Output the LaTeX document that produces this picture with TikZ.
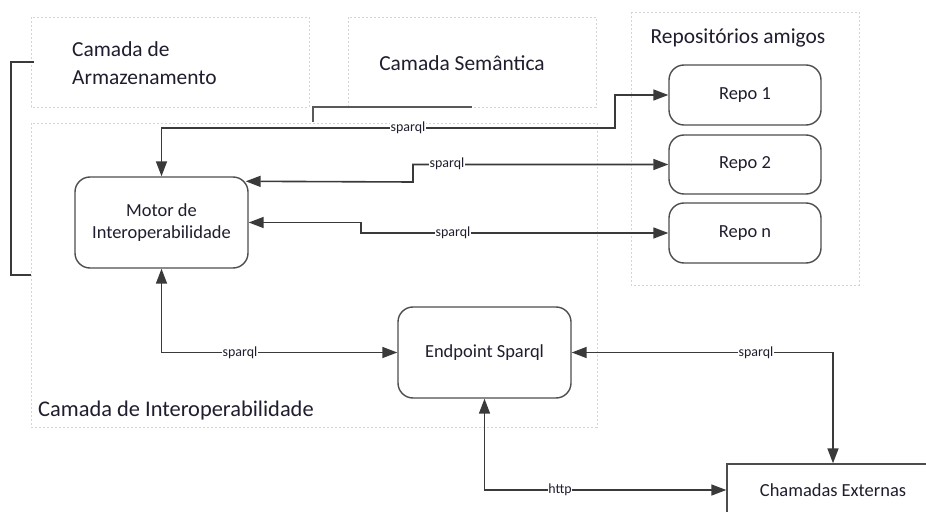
\documentclass[tikz,border=0pt]{standalone}
\usepackage{fontspec}
\setmainfont{Carlito}
\usetikzlibrary{arrows.meta}
\definecolor{txt}{HTML}{1E1E2E}
\definecolor{wire}{HTML}{3A3A3A}
\definecolor{edge}{HTML}{4D4D4D}
\definecolor{zone}{HTML}{D4D4D4}
\tikzset{
  layerbox/.style={draw=zone, line width=0.8bp, dash pattern=on 2bp off 2bp},
  layertitle/.style={text=txt, inner sep=0pt, font=\fontsize{21.5}{28}\selectfont},
  procbox/.style={draw=edge, line width=1.4bp, rounded corners=15bp, fill=white,
    inner sep=0pt, text=txt, align=center, font=\fontsize{18.5}{22}\selectfont},
  extbox/.style={draw=edge, line width=1.4bp, fill=white, inner sep=0pt, text=txt,
    font=\fontsize{18.5}{22}\selectfont},
  link/.style={draw=wire, line width=1.6bp, {Triangle[length=15bp,width=11bp]}-{Triangle[length=15bp,width=11bp]}},
  wirelabel/.style={fill=white, inner sep=0.6bp, text=txt, font=\fontsize{14}{15}\selectfont},
}
\begin{document}
\begin{tikzpicture}[x=1bp, y=-1bp]
  \useasboundingbox (0,0) rectangle (926,512);
  \clip (0,0) rectangle (926,512);
  \fill[white] (0,0) rectangle (926,512);

  % layer frames
  \draw[layerbox] (31,17) rectangle (309,107);
  \draw[layerbox] (348,17) rectangle (596,107);
  \draw[layerbox] (631,12) rectangle (859,285);
  \draw[layerbox] (31,123) rectangle (597,427);

  \node[layertitle, align=left, anchor=west] (tstore) at (72,63) {Camada de\\Armazenamento};
  \node[layertitle] (tsem) at (462,63) {Camada Semântica};
  \node[layertitle] (trepo) at (738,38) {Repositórios amigos};
  \node[layertitle, anchor=west, font=\fontsize{22.5}{28}\selectfont] (tinter) at (38,411) {Camada de Interoperabilidade};

  % side bracket and semantic-layer stub
  \draw[wire, line width=1.5bp] (34,62) -- (11,62) -- (11,275) -- (31,275);
  \draw[draw=gray!70!black, line width=2.2bp] (313,122) -- (313,107) -- (472,107);

  % components
  \node[procbox, minimum width=173bp, minimum height=91bp] (motor) at (161.5,222.5) {Motor de\\Interoperabilidade};
  \node[procbox, minimum width=152bp, minimum height=60bp] (repo1) at (745,95) {Repo 1};
  \node[procbox, minimum width=152bp, minimum height=59bp] (repo2) at (745,164.5) {Repo 2};
  \node[procbox, minimum width=152bp, minimum height=60bp] (repon) at (745,233) {Repo n};
  \node[procbox, minimum width=173bp, minimum height=91bp] (endpoint) at (484.5,352.5) {Endpoint Sparql};
  \node[extbox, minimum width=212bp, minimum height=52bp] (ext) at (833,490) {Chamadas Externas};

  % connectors
  \draw[link] (motor.north) |- (615,128) |- (repo1.west);
  \draw[link] ([shift={(-3,5)}]motor.north east) -- (413,182) |- (repo2.west);
  \draw[link] (motor.east) -- (361,222.5) |- (repon.west);
  \draw[link] (motor.south) |- (endpoint.west);
  \draw[link] (endpoint.east) -| (ext.north);
  \draw[link] (endpoint.south) |- (ext.west);

  % connector labels
  \node[wirelabel] (l1) at (408,128) {sparql};
  \node[wirelabel] (l2) at (447,164) {sparql};
  \node[wirelabel] (l3) at (453,233) {sparql};
  \node[wirelabel] (l4) at (240,352.5) {sparql};
  \node[wirelabel] (l5) at (756,352.5) {sparql};
  \node[wirelabel] (l6) at (560,490) {http};
\end{tikzpicture}
\end{document}
